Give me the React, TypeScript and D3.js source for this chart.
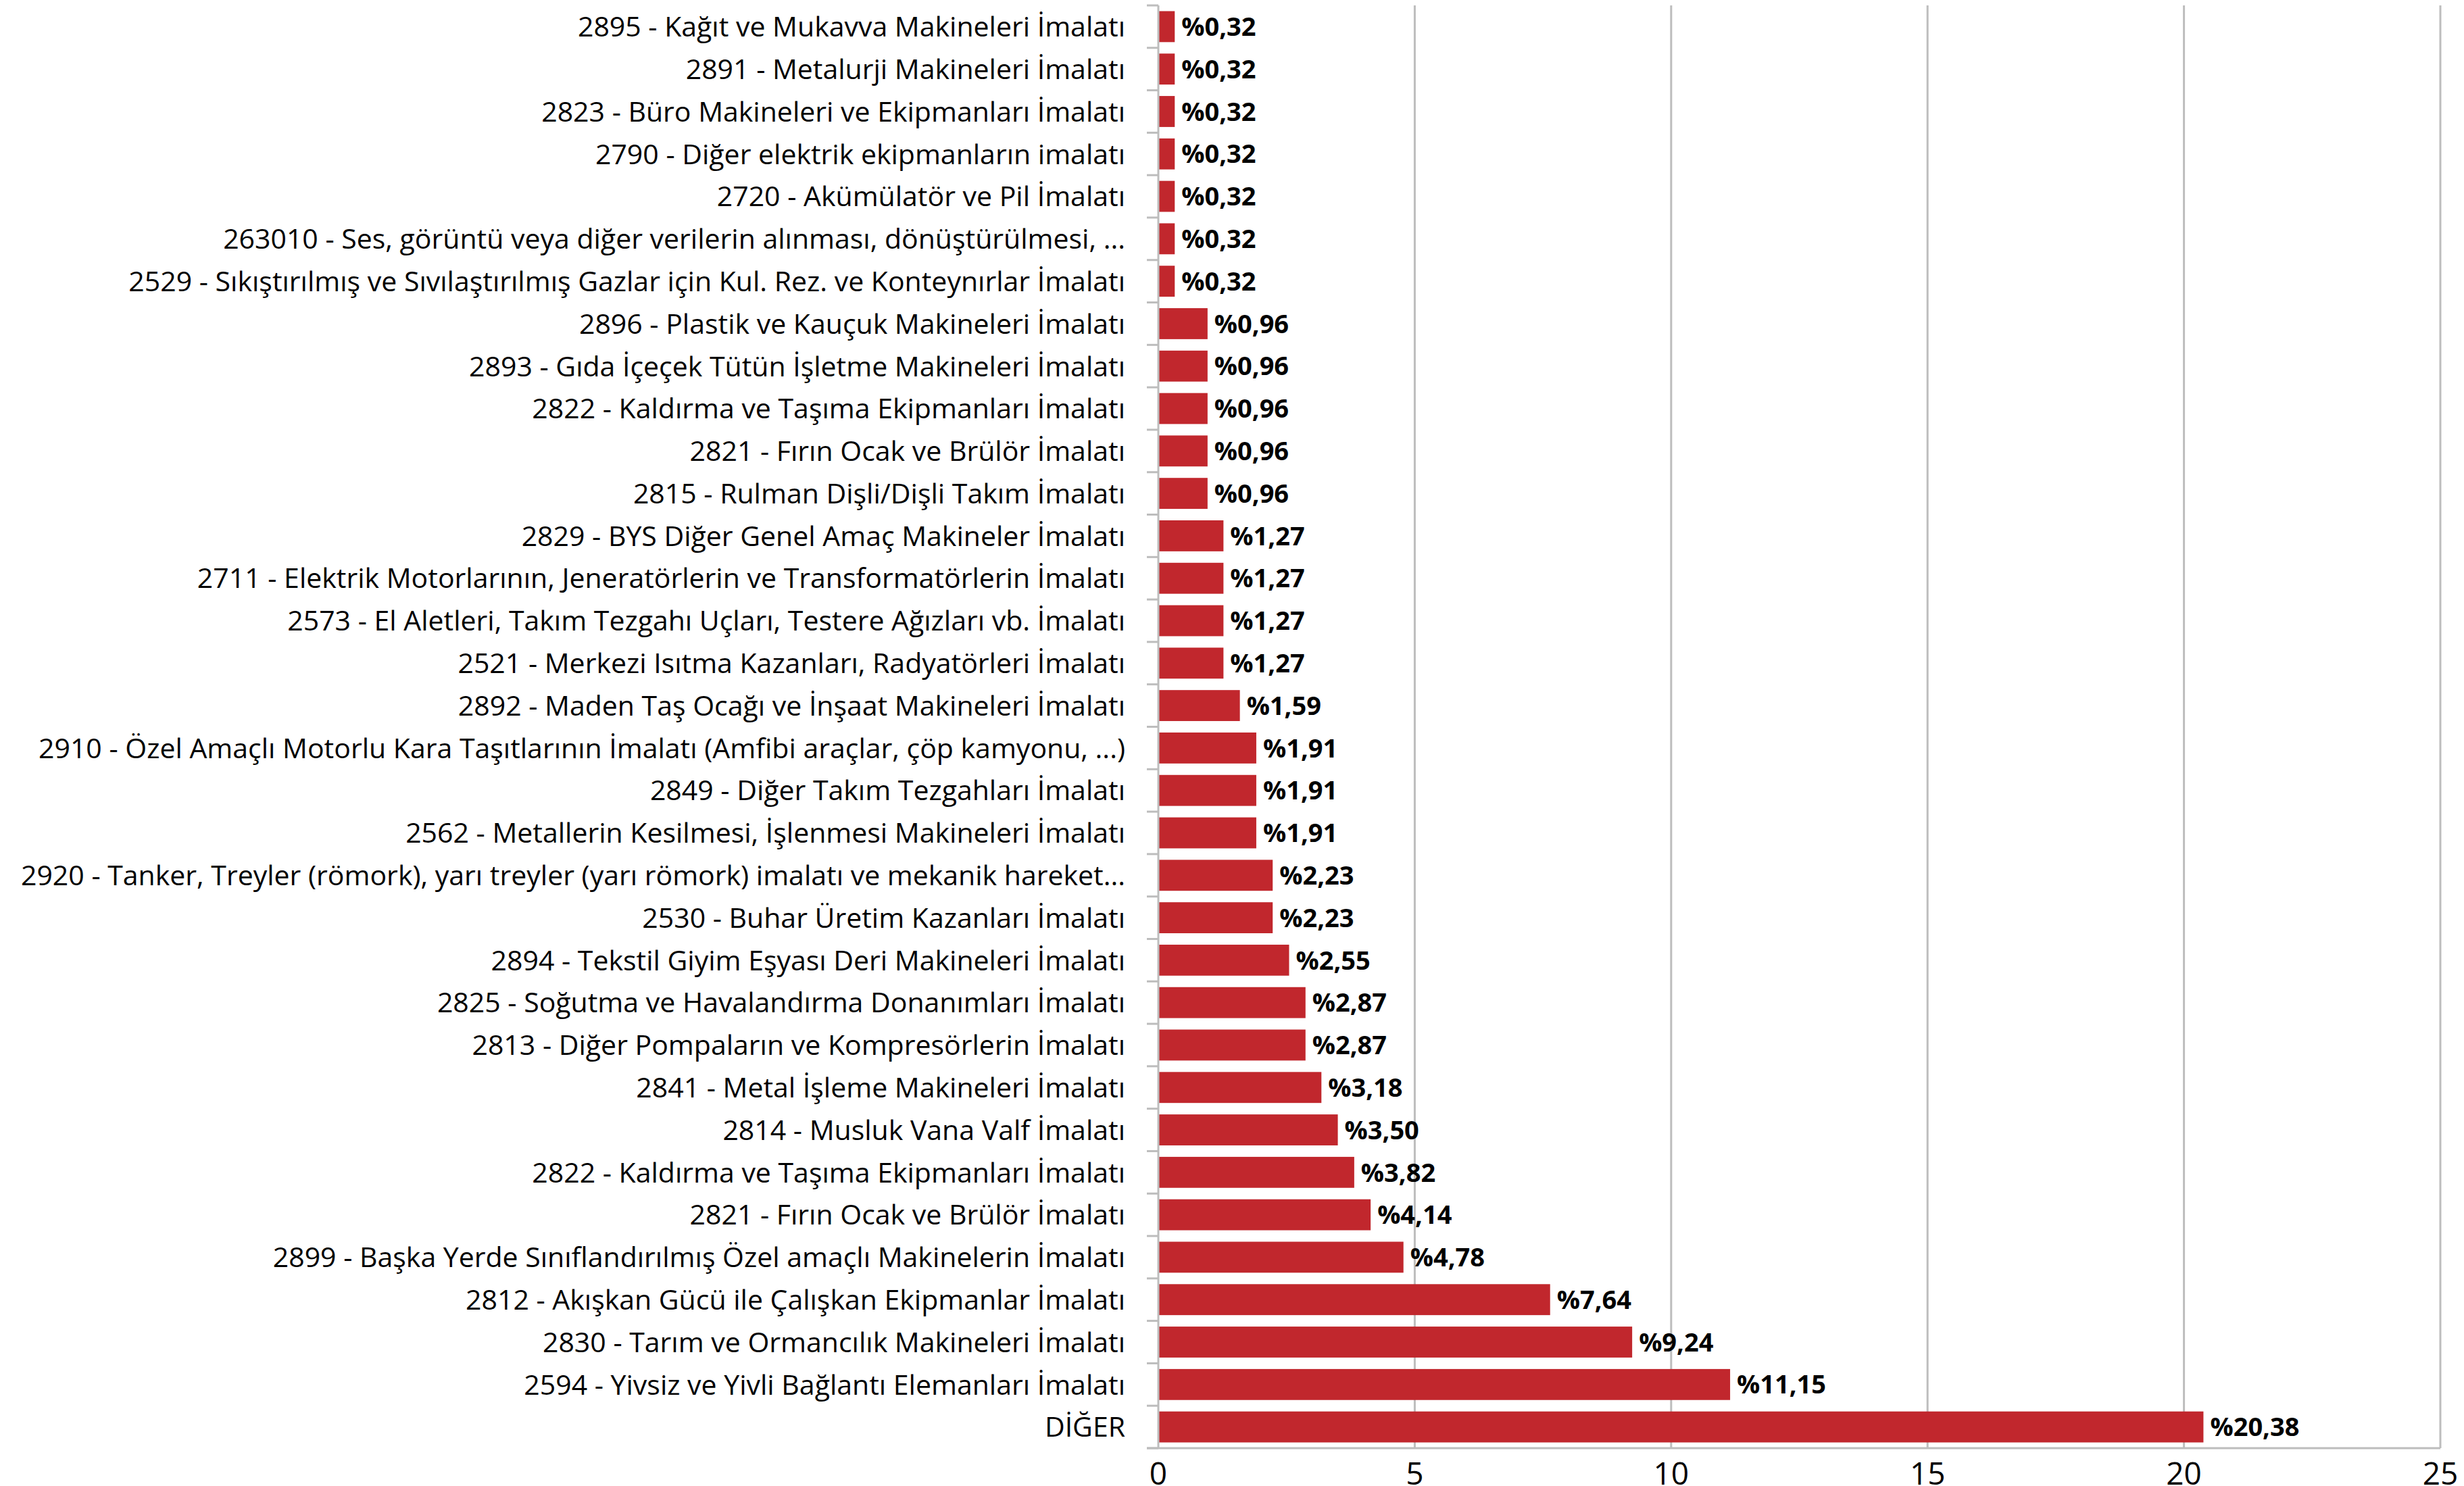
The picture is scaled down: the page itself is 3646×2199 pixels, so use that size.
import React from "react";
import * as d3 from "d3";

const categories: string[] = [
  "2895 - Kağıt ve Mukavva Makineleri İmalatı",
  "2891 - Metalurji Makineleri İmalatı",
  "2823 - Büro Makineleri ve Ekipmanları İmalatı",
  "2790 - Diğer elektrik ekipmanların imalatı",
  "2720 - Akümülatör ve Pil İmalatı",
  "263010 - Ses, görüntü veya diğer verilerin alınması, dönüştürülmesi, ...",
  "2529 - Sıkıştırılmış ve Sıvılaştırılmış Gazlar için Kul. Rez. ve Konteynırlar İmalatı",
  "2896 - Plastik ve Kauçuk Makineleri İmalatı",
  "2893 - Gıda İçeçek Tütün İşletme Makineleri İmalatı",
  "2822 - Kaldırma ve Taşıma Ekipmanları İmalatı",
  "2821 - Fırın Ocak ve Brülör İmalatı",
  "2815 - Rulman Dişli/Dişli Takım İmalatı",
  "2829 - BYS Diğer Genel Amaç Makineler İmalatı",
  "2711 - Elektrik Motorlarının, Jeneratörlerin ve Transformatörlerin İmalatı",
  "2573 - El Aletleri, Takım Tezgahı Uçları, Testere Ağızları vb. İmalatı",
  "2521 - Merkezi Isıtma Kazanları, Radyatörleri İmalatı",
  "2892 - Maden Taş Ocağı ve İnşaat Makineleri İmalatı",
  "2910 - Özel Amaçlı Motorlu Kara Taşıtlarının İmalatı (Amfibi araçlar, çöp kamyonu, ...)",
  "2849 - Diğer Takım Tezgahları İmalatı",
  "2562 - Metallerin Kesilmesi, İşlenmesi Makineleri İmalatı",
  "2920 - Tanker, Treyler (römork), yarı treyler (yarı römork) imalatı ve mekanik hareket...",
  "2530 - Buhar Üretim Kazanları İmalatı",
  "2894 - Tekstil Giyim Eşyası Deri Makineleri İmalatı",
  "2825 - Soğutma ve Havalandırma Donanımları İmalatı",
  "2813 - Diğer Pompaların ve Kompresörlerin İmalatı",
  "2841 - Metal İşleme Makineleri İmalatı",
  "2814 - Musluk Vana Valf İmalatı",
  "2822 - Kaldırma ve Taşıma Ekipmanları İmalatı",
  "2821 - Fırın Ocak ve Brülör İmalatı",
  "2899 - Başka Yerde Sınıflandırılmış Özel amaçlı Makinelerin İmalatı",
  "2812 - Akışkan Gücü ile Çalışkan Ekipmanlar İmalatı",
  "2830 - Tarım ve Ormancılık Makineleri İmalatı",
  "2594 - Yivsiz ve Yivli Bağlantı Elemanları İmalatı",
  "DİĞER",
];

const values: number[] = [
  0.32, 0.32, 0.32, 0.32, 0.32, 0.32, 0.32,
  0.96, 0.96, 0.96, 0.96, 0.96,
  1.27, 1.27, 1.27, 1.27,
  1.59,
  1.91, 1.91, 1.91,
  2.23, 2.23,
  2.55,
  2.87, 2.87,
  3.18, 3.5, 3.82, 4.14, 4.78, 7.64, 9.24, 11.15, 20.38,
];

const xTicks: number[] = [0, 5, 10, 15, 20, 25];

const W = 3646;
const H = 2199;
const M = { left: 1714, right: 3611, top: 8, bottom: 2143 };
const BAR = "#C1272D";
const GRID = "#bdbdbd";
const FONT = "'Open Sans', sans-serif";

export default function App() {
  const x = d3.scaleLinear().domain([0, 25]).range([M.left, M.right]);
  const y = d3
    .scaleBand<number>()
    .domain(categories.map((_, i) => i))
    .range([M.top, M.bottom])
    .paddingInner(0.27)
    .paddingOuter(0.135);
  const step = y.step();

  return (
    <div style={{ position: "absolute", left: 0, top: 0 }}>
      <svg width={W} height={H} style={{ display: "block", background: "#fff" }}>
        {xTicks.filter((t) => t > 0).map((t) => (
          <line key={"g" + t} x1={x(t)} x2={x(t)} y1={M.top} y2={M.bottom} stroke={GRID} strokeWidth={3} />
        ))}
        {values.map((v, i) => (
          <rect key={"b" + i} x={x(0)} y={y(i)!} width={x(v) - x(0)} height={y.bandwidth()} fill={BAR} />
        ))}
        {values.map((v, i) => (
          <text
            key={"v" + i}
            x={x(v) + 10}
            y={y(i)! + y.bandwidth() / 2}
            dy="0.36em"
            fontFamily={FONT}
            fontWeight={700}
            fontSize={38}
            fill="#000"
          >
            {"%" + v.toFixed(2).replace(".", ",")}
          </text>
        ))}
        <line x1={x(0)} x2={x(0)} y1={M.top} y2={M.bottom} stroke={GRID} strokeWidth={3} />
        {d3.range(categories.length + 1).map((i) => (
          <line key={"t" + i} x1={x(0) - 17} x2={x(0)} y1={M.top + i * step} y2={M.top + i * step} stroke={GRID} strokeWidth={3} />
        ))}
        {categories.map((c, i) => (
          <text
            key={"c" + i}
            x={1665}
            y={y(i)! + y.bandwidth() / 2}
            dy="0.36em"
            textAnchor="end"
            fontFamily={FONT}
            fontSize={41}
            fill="#000"
          >
            {c}
          </text>
        ))}
        <line x1={x(0) - 17} x2={M.right} y1={M.bottom} y2={M.bottom} stroke={GRID} strokeWidth={3} />
        {xTicks.map((t) => (
          <text key={"x" + t} x={x(t)} y={2197} textAnchor="middle" fontFamily={FONT} fontSize={46} fill="#000">
            {t}
          </text>
        ))}
      </svg>
    </div>
  );
}
